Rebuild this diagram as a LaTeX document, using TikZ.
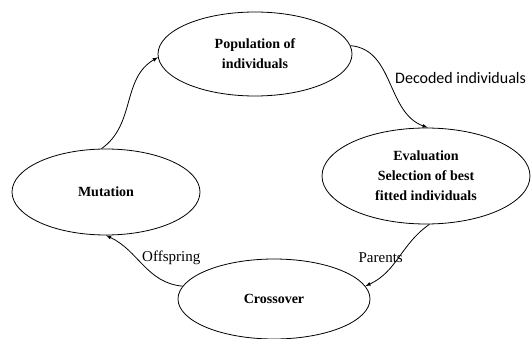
\documentclass[tikz,border=0pt]{standalone}
\usepackage{fontspec}
\setmainfont{Liberation Serif}
\newfontfamily\calibri{Carlito}
\usetikzlibrary{shapes.geometric}

\begin{document}
\begin{tikzpicture}[x=1pt,y=-1pt]
% estilos de nodos y flechas
\tikzstyle{etapa} = [ellipse,draw,line width=0.8pt,inner sep=0pt,align=center,
  font=\fontsize{14}{20}\selectfont\bfseries]
\tikzstyle{flujo} = [line width=0.8pt,-latex]
\tikzstyle{rotulo} = [inner sep=1pt,font=\fontsize{15}{18}\selectfont]
% marco del dibujo
\useasboundingbox (0,0) rectangle (532,339);
% --------------------------------------
% dibujar etapas
\node [etapa,minimum width=194pt,minimum height=84pt] (pob) at (255,54)
  {Population of\\individuals};
\node [etapa,minimum width=208pt,minimum height=96pt] (eval) at (426,176)
  {Evaluation\\Selection of best\\fitted individuals};
\node [etapa,minimum width=188pt,minimum height=86pt] (mut) at (106,192)
  {Mutation};
\node [etapa,minimum width=192pt,minimum height=80pt] (cruce) at (274,299)
  {Crossover};
% dibujar flujos
\draw [flujo] (mut.96) to[out=35,in=210] (pob.182);
\draw [flujo] (pob.5) to[out=-5,in=160] (eval.88);
\draw [flujo] (eval.-86) to[out=215,in=25] (cruce.8);
\draw [flujo] (cruce.172) to[out=175,in=-25] (mut.-90);
% dibujar rotulos
\node [rotulo,anchor=west,font=\calibri\fontsize{16}{19}\selectfont] (dec) at (394,78)
  {Decoded individuals};
\node [rotulo,anchor=east] (par) at (404,258) {Parents};
\node [rotulo,anchor=west] (off) at (141,258) {Offspring};
% --------------------------------------
\end{tikzpicture}
\end{document}
